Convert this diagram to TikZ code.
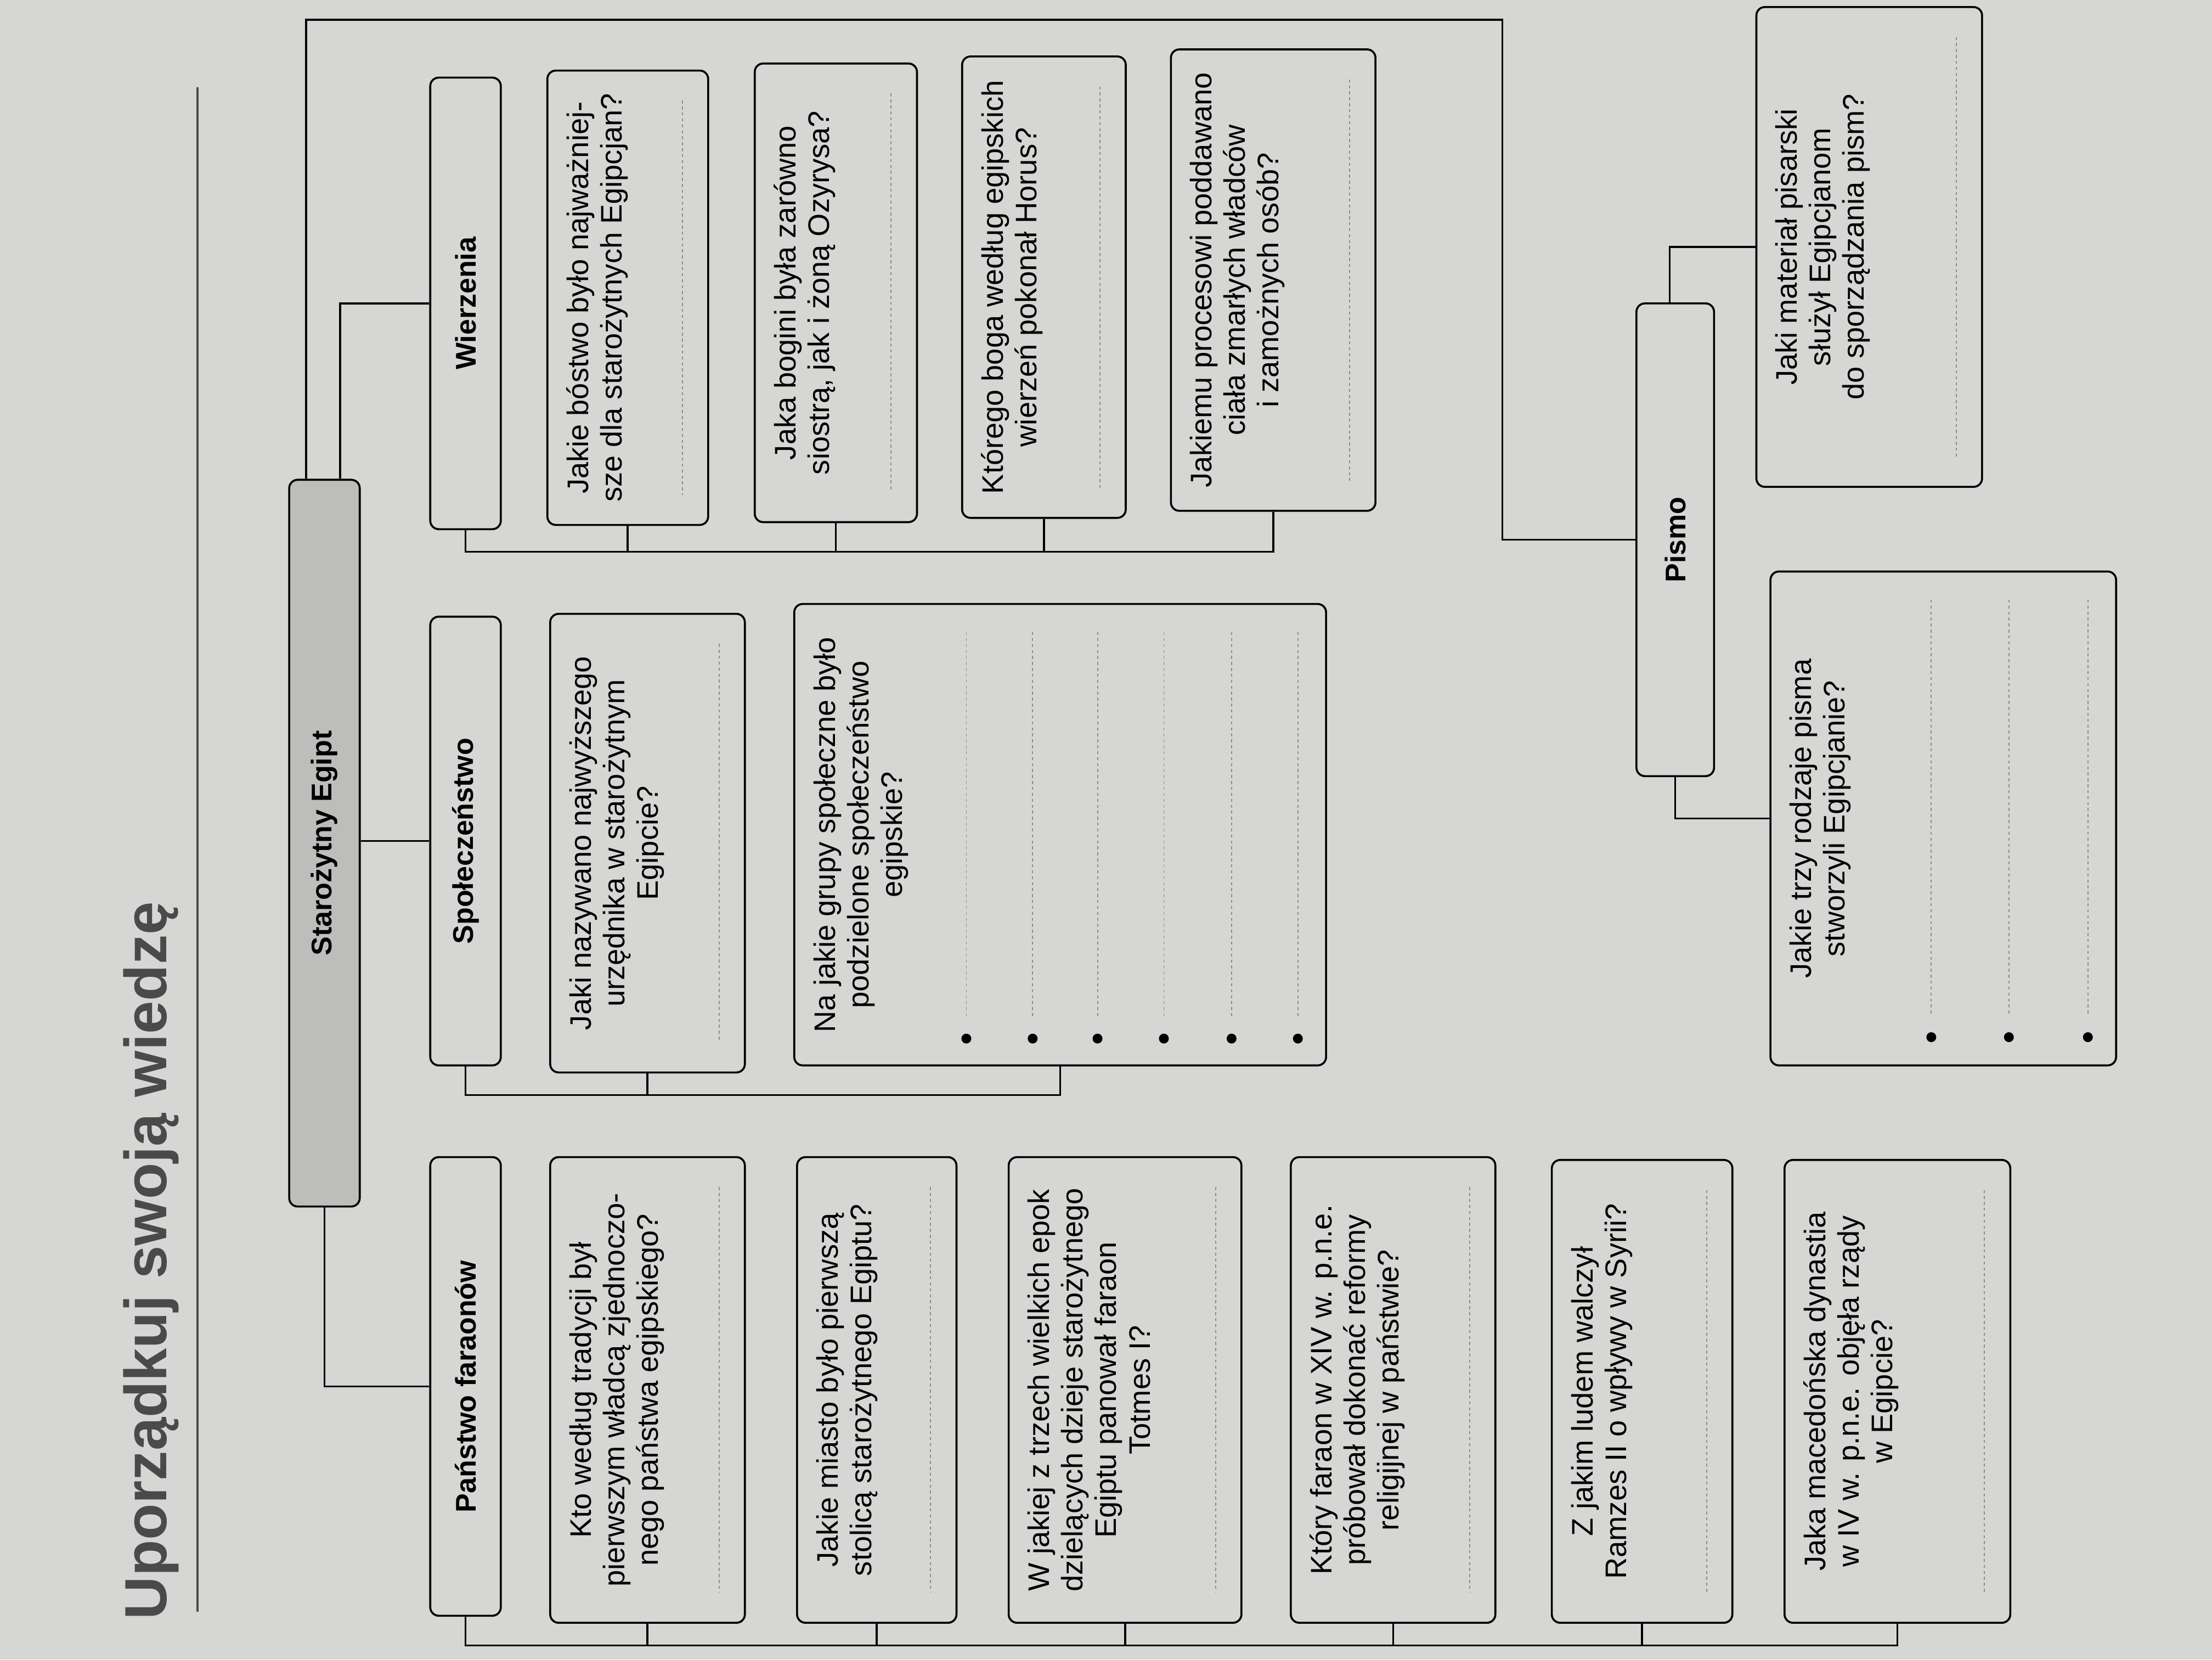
\documentclass[tikz,border=0pt]{standalone}
\usepackage{fontspec}
\setmainfont{Liberation Sans}
\usepackage{tikz}
\usepackage{xcolor}
\usetikzlibrary{positioning,calc,fit}
\definecolor{paper}{HTML}{D6D6D4}
\definecolor{rootgray}{HTML}{BDBDBB}
\definecolor{titlegray}{HTML}{4A4A4A}

\begin{document}
\begin{tikzpicture}[x=0.2mm,y=-0.2mm,every node/.style={font=\fontsize{12}{13.5}\selectfont}]
    \tikzstyle{qbox}=[draw,rounded corners=1.2mm,line width=0.8pt,inner sep=0pt];
    \tikzstyle{rootbox}=[qbox,fill=rootgray];
    \tikzstyle{cattext}=[rotate=90,font=\bfseries\fontsize{11.5}{13}\selectfont];
    \tikzstyle{qtext}=[rotate=90,anchor=north,align=center,inner sep=0pt];
    \tikzstyle{titletext}=[rotate=90,anchor=west,inner sep=0pt,text=titlegray,
                           font=\bfseries\fontsize{24}{28}\selectfont];
    \tikzstyle{conn}=[line width=0.8pt];
    \tikzstyle{answer}=[black!45,line width=0.4pt,dash pattern=on 1.2pt off 1.2pt];
    \useasboundingbox (0,0) rectangle (1568,1176);
    \fill[paper] (0,0) rectangle (1568,1176);
    % --- title ---
    \node[titletext] (title) at (107,1148) {Uporządkuj swoją wiedzę};
    \draw[line width=1pt,titlegray] (140,62) -- (140,1142);
    % --- root and branches ---
    \node[rootbox,fit={(205,340) (255,855)}] (root) {};
    \node[cattext] (roott) at (root.center) {Starożytny Egipt};
    \node[qbox,fit={(305,820) (355,1145)}] (pf) {};
    \node[cattext] (pft) at (pf.center) {Państwo faraonów};
    \node[qbox,fit={(305,437) (355,755)}] (sp) {};
    \node[cattext] (spt) at (sp.center) {Społeczeństwo};
    \node[qbox,fit={(305,55) (355,375)}] (wz) {};
    \node[cattext] (wzt) at (wz.center) {Wierzenia};
    \node[qbox,fit={(1160,215) (1215,550)}] (pi) {};
    \node[cattext] (pit) at (pi.center) {Pismo};
    % --- Państwo faraonów: questions ---
    \node[qbox,fit={(390,820) (528,1150)}] (p1) {};
    \node[qtext] (p1t) at ($(p1.west)+(14,0)$) {Kto według tradycji był\\pierwszym władcą zjednoczo-\\nego państwa egipskiego?};
    \node[qbox,fit={(565,820) (678,1150)}] (p2) {};
    \node[qtext] (p2t) at ($(p2.west)+(14,0)$) {Jakie miasto było pierwszą\\stolicą starożytnego Egiptu?};
    \node[qbox,fit={(715,820) (880,1150)}] (p3) {};
    \node[qtext] (p3t) at ($(p3.west)+(14,0)$) {W jakiej z trzech wielkich epok\\dzielących dzieje starożytnego\\Egiptu panował faraon\\Totmes I?};
    \node[qbox,fit={(915,820) (1060,1150)}] (p4) {};
    \node[qtext] (p4t) at ($(p4.west)+(14,0)$) {Który faraon w XIV w. p.n.e.\\próbował dokonać reformy\\religijnej w państwie?};
    \node[qbox,fit={(1100,822) (1228,1150)}] (p5) {};
    \node[qtext] (p5t) at ($(p5.west)+(14,0)$) {Z jakim ludem walczył\\Ramzes II o wpływy w Syrii?};
    \node[qbox,fit={(1265,822) (1425,1150)}] (p6) {};
    \node[qtext] (p6t) at ($(p6.west)+(14,0)$) {Jaka macedońska dynastia\\w IV w. p.n.e. objęła rządy\\w Egipcie?};
    % --- Społeczeństwo: questions ---
    \node[qbox,fit={(390,435) (528,760)}] (s1) {};
    \node[qtext] (s1t) at ($(s1.west)+(14,0)$) {Jaki nazywano najwyższego\\urzędnika w starożytnym\\Egipcie?};
    \node[qbox,fit={(563,428) (940,755)}] (s2) {};
    \node[qtext] (s2t) at ($(s2.west)+(14,0)$) {Na jakie grupy społeczne było\\podzielone społeczeństwo\\egipskie?};
    % --- Wierzenia: questions ---
    \node[qbox,fit={(388,50) (502,372)}] (w1) {};
    \node[qtext] (w1t) at ($(w1.west)+(14,0)$) {Jakie bóstwo było najważniej-\\sze dla starożytnych Egipcjan?};
    \node[qbox,fit={(535,45) (650,370)}] (w2) {};
    \node[qtext] (w2t) at ($(w2.west)+(14,0)$) {Jaka bogini była zarówno\\siostrą, jak i żoną Ozyrysa?};
    \node[qbox,fit={(682,40) (798,367)}] (w3) {};
    \node[qtext] (w3t) at ($(w3.west)+(14,0)$) {Którego boga według egipskich\\wierzeń pokonał Horus?};
    \node[qbox,fit={(830,35) (975,362)}] (w4) {};
    \node[qtext] (w4t) at ($(w4.west)+(14,0)$) {Jakiemu procesowi poddawano\\ciała zmarłych władców\\i zamożnych osób?};
    % --- Pismo: questions ---
    \node[qbox,fit={(1245,5) (1405,345)}] (pm1) {};
    \node[qtext] (pm1t) at ($(pm1.west)+(14,0)$) {Jaki materiał pisarski\\służył Egipcjanom\\do sporządzania pism?};
    \node[qbox,fit={(1255,405) (1500,755)}] (pm2) {};
    \node[qtext] (pm2t) at ($(pm2.west)+(14,0)$) {Jakie trzy rodzaje pisma\\stworzyli Egipcjanie?};
    % --- answer lines ---
    \foreach \q in {p1,p2,p3,p4,p5,p6,s1,w1,w2,w3,w4,pm1}
      \draw[answer] ($(\q.north east)+(-19,22)$) -- ($(\q.south east)+(-19,-22)$);
    \foreach \xx in {685,732,778,825,873,920} {
      \draw[answer] (\xx,448) -- (\xx,722);
      \fill (\xx,736) circle[radius=0.7mm];
    }
    \foreach \xx in {1369,1424,1480} {
      \draw[answer] (\xx,425) -- (\xx,720);
      \fill (\xx,735) circle[radius=0.7mm];
    }
    % --- connectors ---
    \coordinate (pfbar) at (0,1166);
    \coordinate (spbar) at (0,776);
    \coordinate (wzbar) at (0,391);
    \coordinate (topbar) at (1065,14);
    \draw[conn] (root.south) |- (pf.west);
    \draw[conn] (root.east |- sp.west) -- (sp.west);
    \draw[conn] ($(root.north)+(11,0)$) |- (wz.west);
    \draw[conn] ($(root.north)+(-13,0)$) |- (topbar) |- (pi.west);
    \draw[conn] (pf.south) |- (p6.south |- pfbar) -- (p6.south);
    \foreach \q in {p1,p2,p3,p4,p5} \draw[conn] (\q.south) -- (\q.south |- pfbar);
    \draw[conn] (sp.south) |- (s2.south |- spbar) -- (s2.south);
    \draw[conn] (s1.south) -- (s1.south |- spbar);
    \draw[conn] (wz.south) |- (w4.south |- wzbar) -- (w4.south);
    \foreach \q in {w1,w2,w3} \draw[conn] (\q.south) -- (\q.south |- wzbar);
    \draw[conn] ($(pi.north)+(-4,0)$) |- (pm1.west);
    \draw[conn] (pi.south) |- (pm2.west);
\end{tikzpicture}
\end{document}
